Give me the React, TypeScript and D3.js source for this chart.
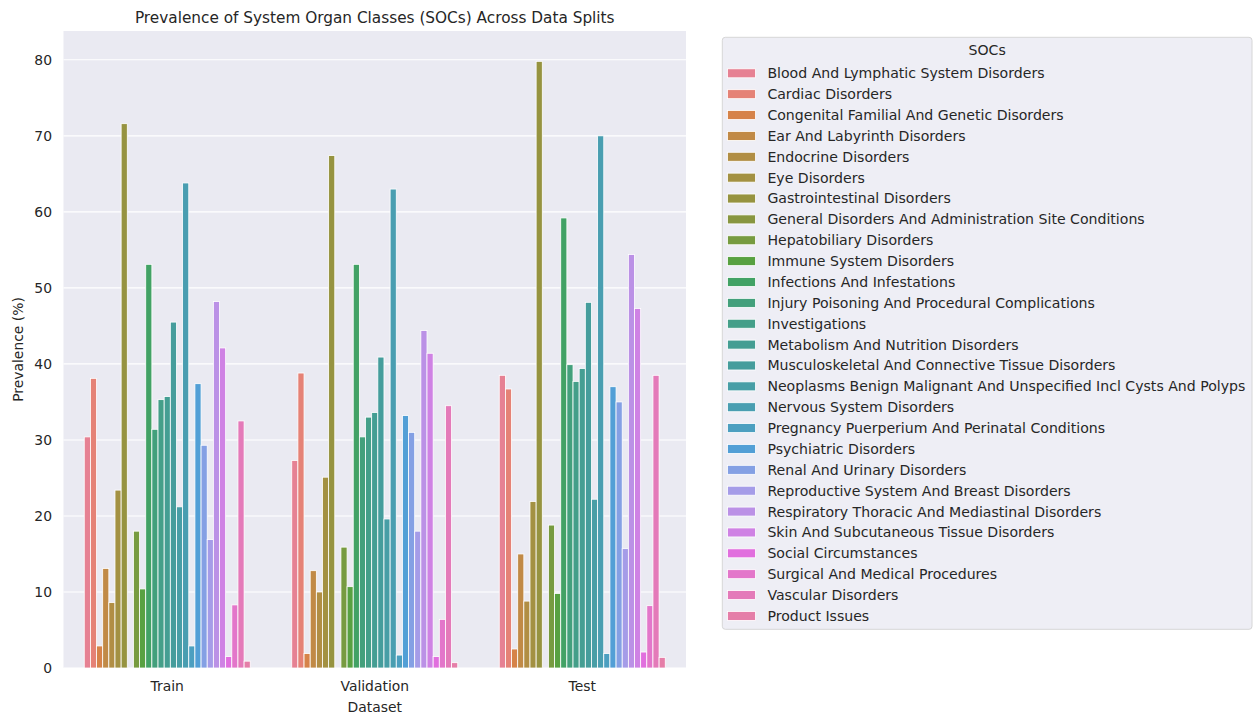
import React from "react";
import * as d3 from "d3";

const datasets = ["Train", "Validation", "Test"];
const socs = [
  "Blood And Lymphatic System Disorders",
  "Cardiac Disorders",
  "Congenital Familial And Genetic Disorders",
  "Ear And Labyrinth Disorders",
  "Endocrine Disorders",
  "Eye Disorders",
  "Gastrointestinal Disorders",
  "General Disorders And Administration Site Conditions",
  "Hepatobiliary Disorders",
  "Immune System Disorders",
  "Infections And Infestations",
  "Injury Poisoning And Procedural Complications",
  "Investigations",
  "Metabolism And Nutrition Disorders",
  "Musculoskeletal And Connective Tissue Disorders",
  "Neoplasms Benign Malignant And Unspecified Incl Cysts And Polyps",
  "Nervous System Disorders",
  "Pregnancy Puerperium And Perinatal Conditions",
  "Psychiatric Disorders",
  "Renal And Urinary Disorders",
  "Reproductive System And Breast Disorders",
  "Respiratory Thoracic And Mediastinal Disorders",
  "Skin And Subcutaneous Tissue Disorders",
  "Social Circumstances",
  "Surgical And Medical Procedures",
  "Vascular Disorders",
  "Product Issues",
];
const trainValues = [30.4, 38.1, 2.9, 13.1, 8.6, 23.4, 71.6, 0, 18.0, 10.4, 53.1, 31.4, 35.3, 35.7, 45.5, 21.2, 63.8, 2.9, 37.4, 29.3, 16.9, 48.2, 42.1, 1.5, 8.3, 32.5, 0.9];
const validationValues = [27.3, 38.8, 1.9, 12.8, 10.0, 25.1, 67.4, 0, 15.9, 10.7, 53.1, 30.4, 33.0, 33.6, 40.9, 19.6, 63.0, 1.7, 33.2, 31.0, 18.0, 44.4, 41.4, 1.5, 6.4, 34.5, 0.7];
const testValues = [38.5, 36.7, 2.5, 15.0, 8.8, 21.9, 79.8, 0, 18.8, 9.8, 59.2, 39.9, 37.7, 39.4, 48.1, 22.2, 70.0, 1.9, 37.0, 35.0, 15.7, 54.4, 47.3, 2.1, 8.2, 38.5, 1.4];
const yTicks = [0, 10, 20, 30, 40, 50, 60, 70, 80];

// ---- HUSL (seaborn husl_palette) ----
const M = [
  [3.2406, -1.5372, -0.4986],
  [-0.9689, 1.8758, 0.0415],
  [0.0557, -0.204, 1.057],
];
const refU = 0.19784, refV = 0.46834, labE = 0.008856, labK = 903.3;
function maxChroma(L: number, H: number) {
  const hrad = (H / 360) * 2 * Math.PI;
  const sinH = Math.sin(hrad), cosH = Math.cos(hrad);
  const sub1 = Math.pow(L + 16, 3) / 1560896;
  const sub2 = sub1 > labE ? sub1 : L / labK;
  let result = Infinity;
  for (const [m1, m2, m3] of M) {
    const top = (0.99915 * m1 + 1.05122 * m2 + 1.1446 * m3) * sub2;
    const rb = 0.8633 * m3 - 0.17266 * m2;
    const lb = 0.12949 * m3 - 0.38848 * m1;
    const bottom = (rb * sinH + lb * cosH) * sub2;
    for (const t of [0, 1]) {
      const C = (L * (top - 1.05122 * t)) / (bottom + 0.17266 * sinH * t);
      if (C > 0 && C < result) result = C;
    }
  }
  return result;
}
function huslToRgb(H: number, S: number, L: number) {
  const C = (maxChroma(L, H) / 100) * S;
  const hrad = (H / 360) * 2 * Math.PI;
  const U = C * Math.cos(hrad), V = C * Math.sin(hrad);
  const t = (L + 16) / 116;
  const varY = Math.pow(t, 3) > labE ? Math.pow(t, 3) : (116 * t - 16) / labK;
  const varU = U / (13 * L) + refU;
  const varV = V / (13 * L) + refV;
  const Y = varY;
  const X = -(9 * Y * varU) / ((varU - 4) * varV - varU * varV);
  const Z = (9 * Y - 15 * varV * Y - varV * X) / (3 * varV);
  const lin = M.map((r) => r[0] * X + r[1] * Y + r[2] * Z);
  const rgb = lin.map((c) => (c <= 0.0031308 ? 12.92 * c : 1.055 * Math.pow(c, 1 / 2.4) - 0.055));
  return rgb.map((c) => Math.max(0, Math.min(1, c)));
}
function palette(n: number) {
  const out: string[] = [];
  for (let i = 0; i < n; i++) {
    let h = i / n + 0.01;
    h = (h % 1) * 359;
    const [r, g, b] = huslToRgb(h, 0.9 * 99, 0.65 * 99);
    const c = d3.hsl(d3.rgb(r * 255, g * 255, b * 255));
    c.s *= 0.75;
    out.push(c.formatHex());
  }
  return out;
}
const colors = palette(socs.length);

const W = 1254, H = 714;
const ax = { left: 63.5, right: 686, top: 31, bottom: 668 };
const textColor = "#262626";
const font = "DejaVu Sans, sans-serif";

export default function App() {
  const series = [trainValues, validationValues, testValues];
  const maxV = d3.max(series.flat()) as number;
  const y = d3.scaleLinear().domain([0, maxV * 1.05]).range([ax.bottom, ax.top]);
  const x = d3.scaleBand().domain(datasets).range([ax.left, ax.right]).paddingInner(0).paddingOuter(0);
  const groupW = x.bandwidth() * 0.8;
  const inner = d3.scaleBand().domain(socs).range([0, groupW]);

  const lgX = 722.3, lgY = 37.3, lgW = 529.7, lgH = 592;
  const rowY0 = 73.3, rowStep = 20.87;

  return (
    <svg width={W} height={H} style={{ position: "absolute", left: 0, top: 0 }} fontFamily={font}>
      <rect x={0} y={0} width={W} height={H} fill="#fff" />
      <rect x={ax.left} y={ax.top} width={ax.right - ax.left} height={ax.bottom - ax.top} fill="#eaeaf2" />
      {yTicks.map((t) => (
        <g key={t}>
          <line x1={ax.left} x2={ax.right} y1={y(t)} y2={y(t)} stroke="#fff" strokeWidth={1.1} />
          <text x={52} y={y(t)} dy="0.35em" textAnchor="end" fontSize={13.9} fill={textColor}>
            {t}
          </text>
        </g>
      ))}
      {datasets.map((ds, di) => (
        <g key={ds} transform={`translate(${(x(ds) as number) + x.bandwidth() * 0.1},0)`}>
          {socs.map((s, si) => {
            const v = series[di][si];
            return (
              <rect
                key={s}
                x={inner(s) as number}
                y={y(v)}
                width={inner.bandwidth()}
                height={ax.bottom - y(v)}
                fill={colors[si]}
                stroke="#fff"
                strokeWidth={0.8}
              />
            );
          })}
        </g>
      ))}
      {datasets.map((ds) => (
        <text key={ds} x={(x(ds) as number) + x.bandwidth() / 2} y={691} textAnchor="middle" fontSize={13.9} fill={textColor}>
          {ds}
        </text>
      ))}
      <text x={(ax.left + ax.right) / 2} y={712} textAnchor="middle" fontSize={13.9} fill={textColor}>
        Dataset
      </text>
      <text transform={`translate(23,${(ax.top + ax.bottom) / 2}) rotate(-90)`} textAnchor="middle" fontSize={13.9} fill={textColor}>
        Prevalence (%)
      </text>
      <text x={(ax.left + ax.right) / 2} y={22.5} textAnchor="middle" fontSize={15.3} fill={textColor}>
        Prevalence of System Organ Classes (SOCs) Across Data Splits
      </text>
      <rect x={lgX} y={lgY} width={lgW} height={lgH} rx={3} fill="#eeeef5" stroke="#d6d6d6" strokeWidth={1} />
      <text x={lgX + lgW / 2} y={50.5} dy="0.35em" textAnchor="middle" fontSize={14.1} fill={textColor}>
        SOCs
      </text>
      {socs.map((s, i) => (
        <g key={s} transform={`translate(0,${rowY0 + i * rowStep})`}>
          <rect x={727.5} y={-4.5} width={28} height={9} fill={colors[i]} stroke="#fff" strokeWidth={0.8} />
          <text x={767.4} y={0} dy="0.35em" fontSize={14.1} fill={textColor}>
            {s}
          </text>
        </g>
      ))}
    </svg>
  );
}
